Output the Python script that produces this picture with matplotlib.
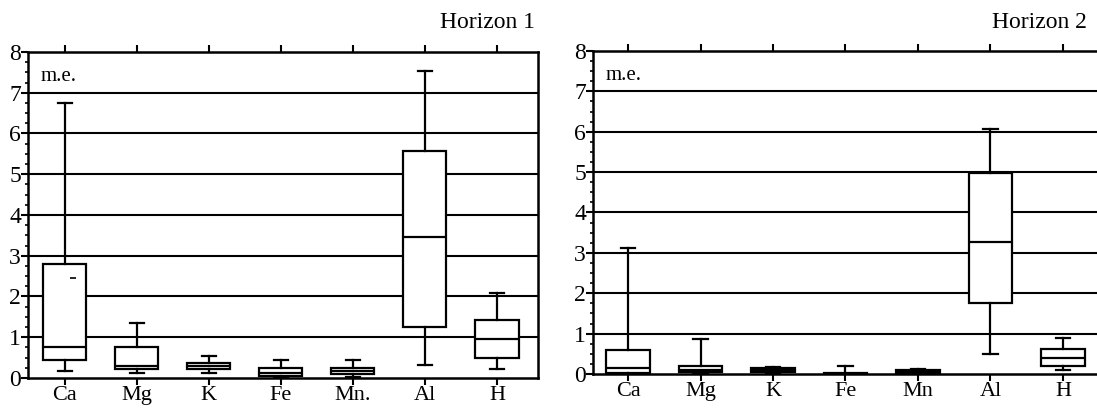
import matplotlib
matplotlib.use("Agg")
from matplotlib import pyplot as plt
from matplotlib.ticker import MultipleLocator

plt.rcParams['font.family'] = ['Liberation Serif', 'DejaVu Serif']

elements = ["Ca", "Mg", "K", "Fe", "Mn.", "Al", "H"]
elements2 = ["Ca", "Mg", "K", "Fe", "Mn", "Al", "H"]

# horizon 1: low whisker, Q1, median, Q3, high whisker
h1_low = [0.18, 0.12, 0.12, 0.0, 0.03, 0.33, 0.22]
h1_q1 = [0.45, 0.22, 0.22, 0.04, 0.10, 1.25, 0.50]
h1_med = [0.77, 0.30, 0.30, 0.12, 0.17, 3.47, 0.96]
h1_q3 = [2.80, 0.77, 0.38, 0.25, 0.25, 5.57, 1.43]
h1_high = [6.75, 1.36, 0.53, 0.45, 0.45, 7.53, 2.08]
h1_mean = [2.45, None, None, None, None, None, None]

# horizon 2
h2_low = [0.0, 0.0, 0.03, 0.0, 0.0, 0.50, 0.10]
h2_q1 = [0.02, 0.05, 0.05, 0.0, 0.0, 1.76, 0.20]
h2_med = [0.15, 0.10, 0.10, 0.01, 0.05, 3.28, 0.40]
h2_q3 = [0.60, 0.20, 0.15, 0.03, 0.10, 4.97, 0.62]
h2_high = [3.12, 0.87, 0.18, 0.20, 0.12, 6.06, 0.90]

fig = plt.figure(figsize=(10.97, 4.11), dpi=100)
ax1 = fig.add_axes([0.0255, 0.0803, 0.4649, 0.7932])
ax2 = fig.add_axes([0.5406, 0.0900, 0.4680, 0.7860])


def draw(ax, labels, low, q1, med, q3, high, xlim, mean=None):
    stats = []
    for i in range(len(labels)):
        stats.append({"whislo": low[i], "q1": q1[i], "med": med[i], "q3": q3[i],
                      "whishi": high[i], "fliers": []})
    pos = list(range(1, len(labels) + 1))
    lw = 1.6
    ax.bxp(stats, positions=pos, widths=0.6, patch_artist=True, showfliers=False,
           boxprops=dict(facecolor="white", edgecolor="black", linewidth=lw),
           medianprops=dict(color="black", linewidth=lw),
           whiskerprops=dict(color="black", linewidth=lw),
           capprops=dict(color="black", linewidth=lw),
           capwidths=0.2, zorder=3)
    if mean is not None:
        for i, m in enumerate(mean):
            if m is not None:
                ax.plot(pos[i] + 0.12, m, marker="_", color="black", ms=4, mew=1.2, zorder=4)
    for y in range(1, 8):
        ax.axhline(y, color="black", lw=1.5, zorder=1)
    ax.set_xlim(*xlim)
    ax.set_ylim(0, 8)
    ax.set_xticks(pos)
    ax.set_xticklabels(labels, fontsize=16)
    ax.set_yticks(range(0, 9))
    ax.yaxis.set_minor_locator(MultipleLocator(0.25))
    ax.tick_params(axis="y", which="major", direction="out", length=5, width=1.5,
                   labelsize=17, pad=0)
    ax.tick_params(axis="y", which="minor", direction="out", length=2.5, width=1.2)
    ax.tick_params(axis="x", which="major", direction="out", length=5, width=1.5,
                   top=True, pad=1)
    for s in ax.spines.values():
        s.set_linewidth(1.8)
    ax.text(0.025, 0.955, "m.e.", transform=ax.transAxes, fontsize=15, va="top", ha="left")
    return ax


draw(ax1, elements, h1_low, h1_q1, h1_med, h1_q3, h1_high, (0.49, 7.57), h1_mean)
draw(ax2, elements2, h2_low, h2_q1, h2_med, h2_q3, h2_high, (0.517, 7.6))

fig.text(0.488, 0.945, "Horizon 1", fontsize=17, ha="right", va="center")
fig.text(0.991, 0.945, "Horizon 2", fontsize=17, ha="right", va="center")

plt.savefig("out.png", dpi=100)
